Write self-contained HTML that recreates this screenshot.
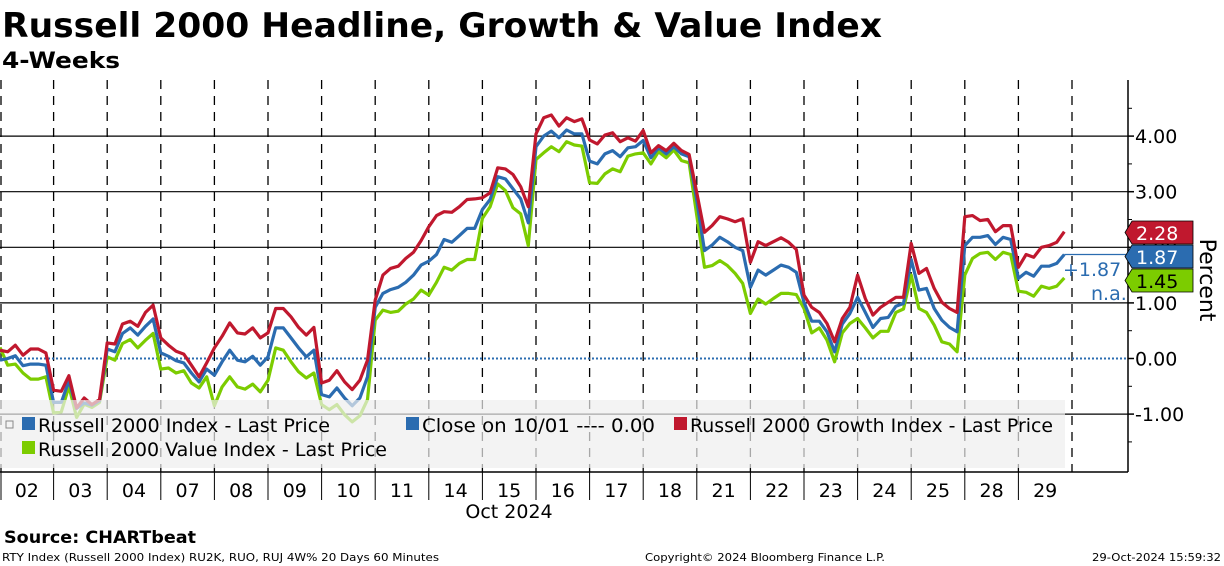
<!DOCTYPE html>
<html><head><meta charset="utf-8"><style>
body{margin:0;background:#fff;}
svg{display:block;font-family:"DejaVu Sans","Liberation Sans",sans-serif;}
</style></head><body>
<svg id="chart" width="1224" height="566" viewBox="0 0 1224 566">
<text x="2" y="37" font-size="34" font-weight="bold" textLength="880" lengthAdjust="spacingAndGlyphs">Russell 2000 Headline, Growth &amp; Value Index</text>
<text x="2" y="68" font-size="22" font-weight="bold" textLength="118" lengthAdjust="spacingAndGlyphs">4-Weeks</text>
<g id="grid"></g>
<g id="series"></g>
<rect x="0" y="400" width="1065" height="68" fill="#eeeeee" fill-opacity="0.7"/>
<g font-size="19">
 <rect x="6" y="421" width="7" height="7" fill="none" stroke="#888"/>
 <rect x="22" y="417" width="13" height="13" fill="#2b6cb0"/>
 <text x="38" y="432" textLength="292" lengthAdjust="spacingAndGlyphs">Russell 2000 Index - Last Price</text>
 <rect x="406" y="417" width="13" height="13" fill="#2b6cb0"/>
 <text x="422" y="432" textLength="233" lengthAdjust="spacingAndGlyphs">Close on 10/01 ---- 0.00</text>
 <rect x="674" y="417" width="13" height="13" fill="#c0182e"/>
 <text x="690" y="432" textLength="363" lengthAdjust="spacingAndGlyphs">Russell 2000 Growth Index - Last Price</text>
 <rect x="22" y="441" width="13" height="13" fill="#7ccc00"/>
 <text x="38" y="456" textLength="349" lengthAdjust="spacingAndGlyphs">Russell 2000 Value Index - Last Price</text>
</g>
<g id="axes"></g>
<text x="4" y="543" font-size="17" font-weight="bold" textLength="192" lengthAdjust="spacingAndGlyphs">Source: CHARTbeat</text>
<text x="2" y="561" font-size="11" textLength="437" lengthAdjust="spacingAndGlyphs">RTY Index (Russell 2000 Index) RU2K, RUO, RUJ 4W% 20 Days 60 Minutes</text>
<text x="645" y="561" font-size="11" textLength="240" lengthAdjust="spacingAndGlyphs">Copyright© 2024 Bloomberg Finance L.P.</text>
<text x="1092" y="561" font-size="11" textLength="129" lengthAdjust="spacingAndGlyphs">29-Oct-2024 15:59:32</text>
</svg>
<script>
const days=["02","03","04","07","08","09","10","11","14","15","16","17","18","21","22","23","24","25","28","29"];
const yTicks=[4,3,2,1,0,-1];
const yTickLabels=["4.00","3.00","2.00","1.00","0.00","-1.00"];
const growth=[0.15,0.12,0.24,0.06,0.17,0.17,0.1,
-0.57,-0.59,-0.31,-0.89,-0.71,-0.83,-0.74,
0.28,0.26,0.62,0.67,0.58,0.83,0.96,
0.37,0.24,0.13,0.08,-0.12,-0.33,-0.08,
0.19,0.4,0.64,0.46,0.44,0.55,0.37,
0.46,0.9,0.9,0.75,0.56,0.42,0.56,
-0.44,-0.39,-0.22,-0.42,-0.56,-0.39,-0.03,
1.05,1.5,1.62,1.66,1.8,1.91,2.12,
2.37,2.57,2.64,2.63,2.73,2.86,2.87,
2.89,2.98,3.43,3.41,3.31,3.09,2.73,
4.04,4.33,4.38,4.18,4.33,4.26,4.31,
3.93,3.86,4.02,4.06,3.9,3.97,3.91,
4.1,3.7,3.83,3.74,3.87,3.74,3.67,
2.98,2.27,2.39,2.55,2.51,2.46,2.51,
1.73,2.1,2.03,2.1,2.17,2.09,1.96,
1.14,0.92,0.83,0.63,0.3,0.72,0.92,
1.5,1.08,0.78,0.92,1.01,1.1,1.1,
2.07,1.53,1.62,1.26,1.01,0.9,0.83,
2.55,2.57,2.48,2.5,2.28,2.39,2.39,
1.64,1.87,1.82,2.0,2.03,2.09,2.28];
const index=[-0.03,0,0.05,-0.13,-0.1,-0.1,-0.12,
-0.79,-0.79,-0.4,-0.9,-0.8,-0.84,-0.76,
0.17,0.12,0.45,0.55,0.42,0.58,0.71,
0.1,0.04,-0.04,-0.08,-0.26,-0.42,-0.19,
-0.3,-0.06,0.15,-0.03,-0.06,0.04,-0.12,
0.03,0.55,0.55,0.37,0.19,0.03,0.15,
-0.65,-0.69,-0.53,-0.71,-0.85,-0.71,-0.33,
0.92,1.17,1.24,1.28,1.37,1.5,1.68,
1.75,1.87,2.14,2.09,2.21,2.34,2.34,
2.68,2.86,3.27,3.23,3.05,2.87,2.44,
3.81,4.0,4.09,3.97,4.11,4.04,4.04,
3.55,3.5,3.68,3.74,3.63,3.79,3.81,
3.92,3.61,3.79,3.68,3.81,3.68,3.63,
2.84,1.94,2.04,2.18,2.1,2.0,1.94,
1.28,1.59,1.5,1.59,1.68,1.64,1.55,
1.01,0.67,0.67,0.48,0.12,0.62,0.81,
1.1,0.83,0.56,0.72,0.74,0.94,0.99,
1.78,1.23,1.26,0.9,0.69,0.56,0.48,
2.03,2.18,2.18,2.21,2.05,2.18,2.14,
1.44,1.55,1.48,1.66,1.66,1.71,1.87];
const value=[0.2,-0.12,-0.1,-0.26,-0.37,-0.37,-0.33,
-0.98,-0.96,-0.5,-1.06,-0.82,-0.88,-0.79,
0.03,-0.03,0.27,0.34,0.19,0.33,0.45,
-0.19,-0.17,-0.26,-0.22,-0.44,-0.53,-0.33,
-0.85,-0.51,-0.33,-0.51,-0.55,-0.46,-0.6,
-0.39,0.19,0.15,-0.06,-0.24,-0.35,-0.26,
-0.83,-0.92,-0.83,-1.01,-1.14,-1.03,-0.74,
0.69,0.87,0.83,0.85,0.98,1.07,1.23,
1.14,1.37,1.64,1.59,1.71,1.78,1.78,
2.52,2.73,3.14,3.02,2.71,2.6,2.03,
3.58,3.7,3.81,3.72,3.9,3.84,3.82,
3.16,3.15,3.32,3.41,3.36,3.64,3.68,
3.7,3.5,3.72,3.61,3.75,3.56,3.52,
2.57,1.64,1.67,1.76,1.67,1.53,1.35,
0.81,1.07,0.98,1.08,1.17,1.17,1.15,
0.9,0.46,0.55,0.33,-0.06,0.46,0.63,
0.72,0.55,0.37,0.49,0.49,0.83,0.89,
1.5,0.9,0.83,0.6,0.3,0.26,0.12,
1.5,1.8,1.89,1.91,1.78,1.91,1.87,
1.21,1.19,1.12,1.3,1.26,1.3,1.45];
const closeLevel=0;
const lastLabels=["2.28","1.87","1.45"];

const NS="http://www.w3.org/2000/svg";
const PTS=7, DAYW=53.6, X0=0, TOP=80, BOT=472, RIGHT=1128;
const xScale=i=>X0+(Math.floor(i/PTS)*DAYW)+(i%PTS)*(DAYW/PTS);
const yScale=v=>358.5-v*55.6;
function mk(tag,attrs,parent){const e=document.createElementNS(NS,tag);for(const k in attrs)e.setAttribute(k,attrs[k]);parent.appendChild(e);return e;}
const grid=document.getElementById('grid'),axes=document.getElementById('axes'),ser=document.getElementById('series');

yTicks.forEach((t,i)=>{
 const y=yScale(t);
 if(t!==0){const l=mk('line',{x1:0,x2:RIGHT,y1:y,y2:y,stroke:'#000','stroke-width':1.2},grid);
 
 }
 const tk=mk('line',{x1:RIGHT,x2:RIGHT+6,y1:y,y2:y,stroke:'#000','stroke-width':1.5},axes);
 
 
 const tx=mk('text',{x:RIGHT+7,y:y+7,'font-size':19},axes);tx.textContent=yTickLabels[i];
 
 
});
for(let v=-1.5;v<=4.5;v+=1){const y=yScale(v);if(y<TOP||y>BOT)continue;
 const m=mk('line',{x1:RIGHT,x2:RIGHT+4,y1:y,y2:y,stroke:'#000'},axes);
 
 }
days.forEach((d,i)=>{
 const x=X0+i*DAYW+(i===0?1:0);
 const l=mk('line',{x1:x,x2:x,y1:TOP,y2:BOT,stroke:'#000','stroke-width':1.3,'stroke-dasharray':'9,7'},grid);
 
 
 const tk=mk('line',{x1:x,x2:x,y1:BOT,y2:BOT+28,stroke:'#000','stroke-width':1},axes);
 
 
 const t=mk('text',{x:X0+i*DAYW+DAYW/2,y:497,'font-size':19,'text-anchor':'middle'},axes);t.textContent=d;
 
 
});
const lastX=X0+days.length*DAYW;
const tk2=mk('line',{x1:lastX,x2:lastX,y1:TOP,y2:BOT,stroke:'#000','stroke-width':1.3,'stroke-dasharray':'9,7'},grid);


const mt=mk('text',{x:509,y:518,'font-size':19,'text-anchor':'middle'},axes);mt.textContent='Oct 2024';


const ax=mk('line',{x1:RIGHT,x2:RIGHT,y1:TOP,y2:BOT,stroke:'#000','stroke-width':1.5},axes);


const xa=mk('line',{x1:0,x2:RIGHT,y1:BOT,y2:BOT,stroke:'#000','stroke-width':1.5},axes);


const yt=mk('text',{x:0,y:0,'font-size':22,transform:'translate(1200,280) rotate(90)','text-anchor':'middle'},axes);yt.textContent='Percent';



const cl=mk('line',{x1:0,x2:RIGHT,y1:yScale(closeLevel),y2:yScale(closeLevel),stroke:'#2b6cb0','stroke-width':2,'stroke-dasharray':'2,2'},ser);


[[value,'#7ccc00','value-line'],[index,'#2b6cb0','index-line'],[growth,'#c0182e','growth-line']].forEach(([arr,c,n])=>{
 const p=mk('polyline',{points:arr.map((v,i)=>xScale(i).toFixed(1)+','+yScale(v).toFixed(1)).join(' '),fill:'none',stroke:c,'stroke-width':3.2,'stroke-linejoin':'round'},ser);
 
 
});
const li=index.length-1;
const cn=mk('line',{x1:xScale(li),x2:RIGHT,y1:yScale(index[li]),y2:yScale(index[li]),stroke:'#2b6cb0','stroke-width':1.2},ser);


const an=mk('text',{x:1063,y:276,'font-size':19,fill:'#2b6cb0'},ser);an.textContent='+1.87';


const na=mk('text',{x:1091,y:300,'font-size':19,fill:'#2b6cb0'},ser);na.textContent='n.a.';


[[221,'#c0182e','#fff',lastLabels[0],'growth-last-label'],[245,'#2b6cb0','#fff',lastLabels[1],'index-last-label'],[269,'#7ccc00','#000',lastLabels[2],'value-last-label']].forEach(([y,c,tc,s,n])=>{
 const g=mk('g',{},axes);
 
 
 mk('polygon',{points:`1125,${y+11.5} 1132,${y} 1193,${y} 1193,${y+23} 1132,${y+23}`,fill:c,stroke:'#000','stroke-width':0.8},g);
 const t=mk('text',{x:1136,y:y+19,'font-size':19,fill:tc},g);t.textContent=s;
});
</script>
</body></html>
